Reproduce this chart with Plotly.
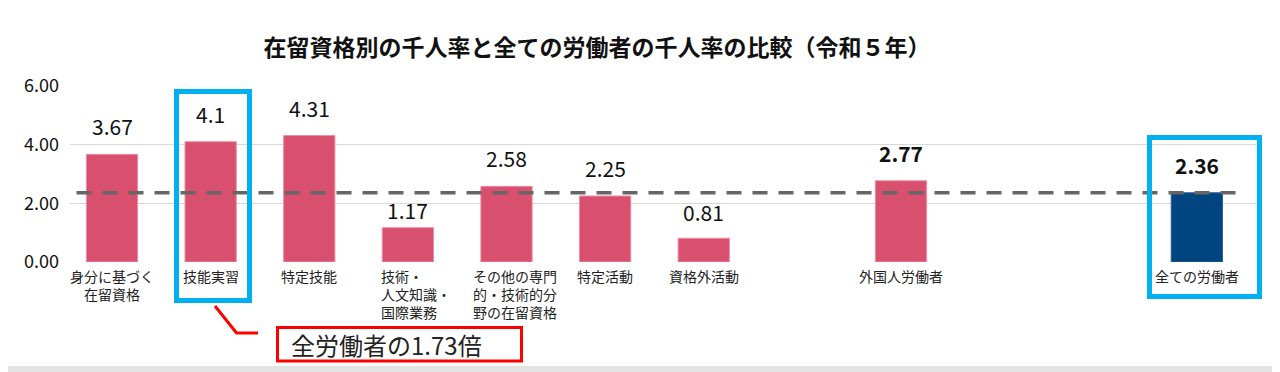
import plotly.graph_objects as go

# ---- data ----
title = "在留資格別の千人率と全ての労働者の千人率の比較（令和５年）"
categories = ["身分に基づく<br>在留資格", "技能実習", "特定技能", "技術・<br>人文知識・<br>国際業務",
              "その他の専門<br>的・技術的分<br>野の在留資格", "特定活動", "資格外活動",
              "外国人労働者", "全ての労働者"]
values = [3.67, 4.10, 4.31, 1.17, 2.58, 2.25, 0.81, 2.77, 2.36]
label_texts = ["3.67", "4.1", "4.31", "1.17", "2.58", "2.25", "0.81", "2.77", "2.36"]
# category slots on axis (blank slots are gaps in the original)
axis_slots = ["身分に基づく<br>在留資格", "技能実習", "特定技能", "技術・<br>人文知識・<br>国際業務",
              "その他の専門<br>的・技術的分<br>野の在留資格", "特定活動", "資格外活動", " ",
              "外国人労働者", "  ", "   ", "全ての労働者"]
reference_value = 2.36
callout_text = "全労働者の1.73倍"
y_ticks = [0, 2, 4, 6]

# ---- styling ----
PINK = "#D94F6E"
NAVY = "#004480"
CYAN = "#00B0F0"
FONT = "Noto Sans CJK JP"
OFF = 8  # page body margin
W, H = 1280 - OFF, 372 - OFF
L, T = 70 - OFF, 86 - OFF
R = W - (1258 - OFF)
B = H - (262 - OFF)
PW, PH = W - L - R, H - T - B

def px(x):
    return (x - OFF - L) / PW

def py(y):
    return (H - B - (y - OFF)) / PH

colors = [PINK] * (len(values) - 1) + [NAVY]
edge = ["#EC8FA3"] * (len(values) - 1) + ["#2F5F9A"]
bold = [False] * 7 + [True, True]
lift = [28, 28, 28, 18, 28, 28, 26, 28, 28]
left_aligned = [False, False, False, True, True, False, False, False, False]

fig = go.Figure()
fig.add_trace(go.Bar(x=categories, y=values, marker=dict(color=colors, line=dict(width=1, color=edge)),
                     width=0.52, hoverinfo="x+y"))

annotations = []
for c, v, t, b, s in zip(categories, values, label_texts, bold, lift):
    annotations.append(dict(x=c, y=v, xref="x", yref="y", text=(f"<b>{t}</b>" if b else t),
                            showarrow=False, yanchor="middle", yshift=s,
                            font=dict(family=FONT, size=21, color="#111111")))
for c, la in zip(categories, left_aligned):
    annotations.append(dict(x=c, y=0, xref="x", yref="y", text=c, showarrow=False,
                            yanchor="top", yshift=-2, xshift=8 if la else 0,
                            align="left" if la else "center",
                            font=dict(family=FONT, size=14, color="#222222")))
annotations.append(dict(x=px(289), y=py(344), xref="paper", yref="paper", text=callout_text,
                        showarrow=False, xanchor="left", yanchor="middle",
                        font=dict(family=FONT, size=24, color="#222222")))

shapes = [
    dict(type="line", xref="x", yref="y", x0=-0.36, x1=11.5, y0=reference_value, y1=reference_value,
         line=dict(color="#666666", width=3.5, dash="15px,11px"), layer="above"),
    dict(type="rect", xref="paper", yref="paper", x0=px(176.5), x1=px(249.5), y0=py(91.5), y1=py(300.5),
         line=dict(color=CYAN, width=5)),
    dict(type="rect", xref="paper", yref="paper", x0=px(1149.5), x1=px(1259.5), y0=py(137.5), y1=py(296.5),
         line=dict(color=CYAN, width=5)),
    dict(type="rect", xref="paper", yref="paper", x0=px(277.5), x1=px(521.5), y0=py(327.5), y1=py(361),
         line=dict(color="#FF0000", width=3)),
    dict(type="path", xref="paper", yref="paper",
         path=f"M {px(215)} {py(306)} L {px(236.5)} {py(333)} L {px(258)} {py(333)}",
         line=dict(color="#FF0000", width=3)),
    dict(type="rect", xref="paper", yref="paper", x0=px(0), x1=px(1290), y0=py(366), y1=py(380),
         line=dict(width=0), fillcolor="#E3E3E3"),
]

fig.update_layout(
    width=W, height=H,
    margin=dict(l=L, r=R, t=T, b=B),
    paper_bgcolor="white", plot_bgcolor="white",
    showlegend=False,
    title=dict(text=f"<b>{title}</b>", x=(597 - OFF) / W, xanchor="center", y=1 - (48 - OFF) / H,
               yanchor="middle", font=dict(family=FONT, size=23, color="#111111")),
    xaxis=dict(type="category", categoryorder="array", categoryarray=axis_slots,
               range=[-0.426, 11.62], showticklabels=False, showgrid=False, zeroline=False,
               showline=False, ticks=""),
    yaxis=dict(range=[0, 6], tickvals=y_ticks, tickformat=".2f", showgrid=True, gridcolor="#D9D9D9",
               gridwidth=1, zeroline=False, showline=False, ticks="", ticklabelstandoff=10,
               tickfont=dict(family=FONT, size=18, color="#111111")),
    annotations=annotations,
    shapes=shapes,
    bargap=0.48,
)

fig.write_html("out.html")
